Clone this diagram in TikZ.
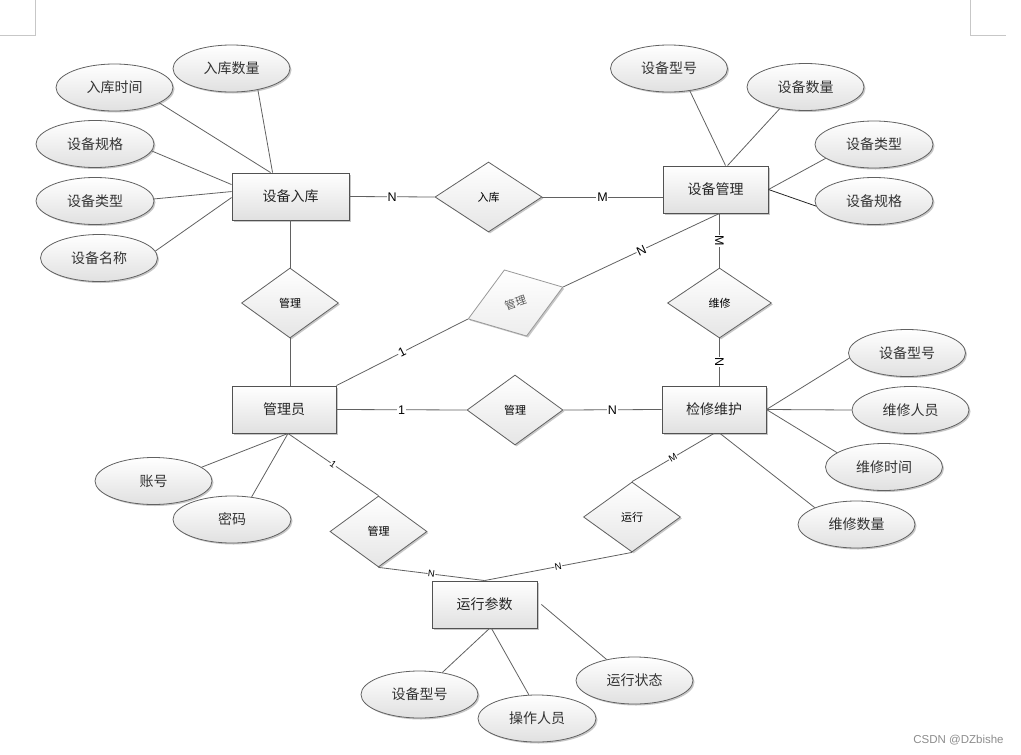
\documentclass[tikz,border=0pt]{standalone}
\usepackage{fontspec}
\setmainfont{Noto Sans CJK SC}
\newfontfamily\wmfont{Liberation Sans}
\newfontfamily\cardfont{Liberation Sans}
\usetikzlibrary{shapes.geometric,shadows,calc}
\begin{document}
\begin{tikzpicture}[x=1pt,y=-1pt,
  line/.style={draw=black!62, line width=0.8pt},
  shade/.style={top color=white, bottom color=black!12},
  shd/.style={drop shadow={shadow xshift=1.5pt,shadow yshift=-1.5pt,opacity=0.22,fill=black}},
  entity/.style={draw=black!68, line width=0.9pt, shade, shd, minimum width=105pt, minimum height=47pt, inner sep=0pt, text=black!85, font=\fontsize{14}{14}\selectfont},
  attr/.style={ellipse, draw=black!62, line width=0.8pt, shade, shd, minimum width=117pt, minimum height=47pt, inner sep=0pt, text=black!80, font=\fontsize{14}{14}\selectfont},
  rel/.style={diamond, draw=black!62, line width=0.8pt, top color=white, bottom color=black!10, shd, minimum width=97pt, minimum height=70pt, inner sep=0pt, text=black, font=\fontsize{11}{11}\selectfont},
  card/.style={fill=white, inner sep=0.8pt, text=black, font=\cardfont\fontsize{12.5}{12.5}\selectfont},
  cards/.style={fill=white, inner sep=0.5pt, text=black, font=\cardfont\fontsize{9.5}{9.5}\selectfont},
  cornermark/.style={draw=black!22, line width=0.8pt}
]
\useasboundingbox (0,0) rectangle (1021,755);

% page corner marks
\coordinate (m1a) at (0,35); \coordinate (m1b) at (35,35); \coordinate (m1c) at (35,0);
\draw[cornermark] (m1a) -- (m1b) -- (m1c);
\coordinate (m2a) at (970,0); \coordinate (m2b) at (970,35); \coordinate (m2c) at (1006,35);
\draw[cornermark] (m2a) -- (m2b) -- (m2c);

% entities
\node[entity, minimum width=117pt] (rk) at (290.5,196.5) {设备入库};
\node[entity] (sbgl) at (715.5,189.5) {设备管理};
\node[entity, minimum width=104pt] (gly) at (284,409.5) {管理员};
\node[entity, minimum width=104pt] (jx) at (714,409.5) {检修维护};
\node[entity] (yx) at (484.5,604.5) {运行参数};

% relationships
\node[rel, minimum width=107pt] (ruku) at (488.5,197) {入库};
\node[rel] (gl1) at (290,303) {管理};
\node[rel, minimum width=100pt, rotate=18.6, draw=black!40, bottom color=black!7, text=black!65] (gl2) at (515.5,303) {管理};
\node[rel, minimum width=96pt] (gl3) at (515,410) {管理};
\node[rel, minimum width=104pt] (wx) at (719.5,303) {维修};
\node[rel, minimum height=71pt] (gl4) at (378.5,531.5) {管理};
\node[rel] (yunx) at (632,517) {运行};

% attributes of 设备入库
\node[attr] (a1) at (231.5,68.5) {入库数量};
\node[attr] (a2) at (114.5,87.5) {入库时间};
\node[attr, minimum width=118pt] (a3) at (95,144) {设备规格};
\node[attr, minimum width=118pt] (a4) at (95,201) {设备类型};
\node[attr] (a5) at (99,258) {设备名称};

% attributes of 设备管理
\node[attr] (b1) at (669,68.5) {设备型号};
\node[attr] (b2) at (805.5,87) {设备数量};
\node[attr, minimum width=118pt] (b3) at (874,144.5) {设备类型};
\node[attr, minimum width=118pt] (b4) at (874,201) {设备规格};

% attributes of 检修维护
\node[attr] (c1) at (907,353) {设备型号};
\node[attr] (c2) at (910.5,410) {维修人员};
\node[attr] (c3) at (884,467) {维修时间};
\node[attr] (c4) at (856.5,524.5) {维修数量};

% attributes of 管理员
\node[attr] (d1) at (153.5,481) {账号};
\node[attr, minimum width=118pt] (d2) at (232,519.5) {密码};

% attributes of 运行参数
\node[attr] (e1) at (419.5,694.5) {设备型号};
\node[attr, minimum width=118pt] (e2) at (537,718.5) {操作人员};
\node[attr] (e3) at (634.5,680.5) {运行状态};

% relationship connectors
\draw[line] (rk.east) -- node[card]{N} (ruku.west);
\draw[line] (ruku.east) -- node[card]{M} (ruku.east -| sbgl.west);
\draw[line] (rk.south -| gl1.north) -- (gl1.north);
\draw[line] (gl1.south) -- (gl1.south |- gly.north);
\draw[line] (gly.north east) -- node[card, sloped]{1} (gl2.west);
\draw[line] (gl2.east) -- node[card, sloped, pos=0.5]{N} (sbgl.south -| wx.north);
\draw[line] (sbgl.south -| wx.north) -- node[card, rotate=-90]{M} (wx.north);
\draw[line] (wx.south) -- node[card, rotate=-90]{N} (wx.south |- jx.north);
\draw[line] (gly.east) -- node[card]{1} (gl3.west);
\draw[line] (gl3.east) -- node[card]{N} (jx.west);
\coordinate (gb) at ($(gly.south)+(4,0)$);
\draw[line] (gb) -- node[cards, sloped]{1} (gl4.north);
\draw[line] (gl4.south) -- node[cards, sloped, pos=0.5]{N} (yx.north);
\draw[line] (yunx.south) -- node[cards, sloped, pos=0.5]{N} (yx.north);
\draw[line] (jx.south) -- node[cards, sloped]{M} (yunx.north);

% attribute connectors: 设备入库
\draw[line] ($(rk.north west)+(41,0)$) -- (a1.-39);
\draw[line] ($(rk.north west)+(39,0)$) -- (a2.-19);
\draw[line] ($(rk.north west)+(0,12)$) -- (a3.-7);
\draw[line] ($(rk.north west)+(0,19)$) -- (a4.2);
\draw[line] ($(rk.north west)+(0,25)$) -- (a5.7);

% 设备管理
\draw[line] ($(sbgl.north west)+(63,0)$) -- (b1.-47);
\draw[line] ($(sbgl.north west)+(65,0)$) -- (b2.-140);
\draw[line] (sbgl.east) -- (b3.-164);
\draw[line, draw=black!85] (sbgl.east) -- (b4.-175);

% 检修维护
\draw[line] (jx.east) -- (c1.-175);
\draw[line] (jx.east) -- (c2.180);
\draw[line] (jx.east) -- (c3.163);
\draw[line] ($(jx.south)+(6,0)$) -- (c4.158);

% 管理员
\draw[line] (gb) -- (d1.16);
\draw[line] (gb) -- (d2.49);

% 运行参数
\draw[line] ($(yx.south)+(5,0)$) -- (e1.44);
\draw[line] ($(yx.south)+(7,0)$) -- (e2.109);
\coordinate (yxr) at ($(yx.east)+(4,0)$);
\draw[line] (yxr) -- (e3.143);

% watermark
\node[text=black!45, font=\wmfont\fontsize{11.5}{11.5}\selectfont, inner sep=0pt] (wm) at (958.5,740) {CSDN @DZbishe};
\end{tikzpicture}
\end{document}
